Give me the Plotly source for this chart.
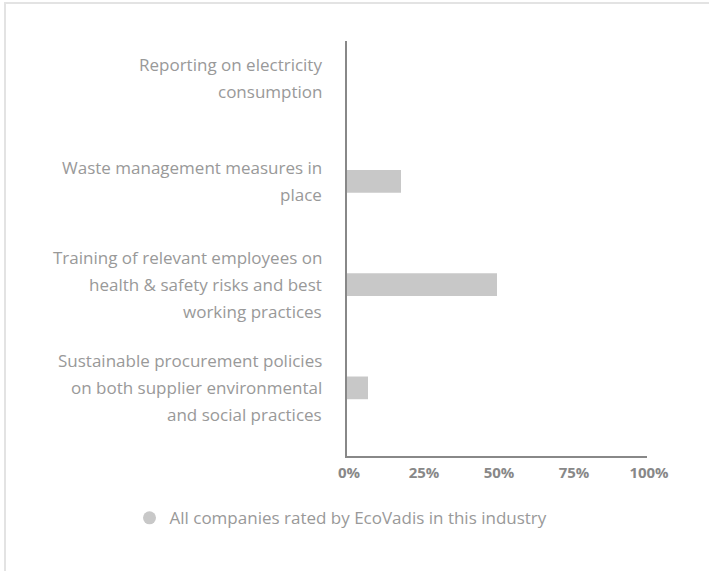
import plotly.graph_objects as go

categories = [
    "Reporting on electricity consumption",
    "Waste management measures in place",
    "Training of relevant employees on health & safety risks and best working practices",
    "Sustainable procurement policies on both supplier environmental and social practices",
]
label_lines = [
    ["Reporting on electricity", "consumption"],
    ["Waste management measures in", "place"],
    ["Training of relevant employees on", "health & safety risks and best", "working practices"],
    ["Sustainable procurement policies", "on both supplier environmental", "and social practices"],
]
values = [0, 18, 50, 7]
tick_vals = [0, 25, 50, 75, 100]
tick_text = ["0%", "25%", "50%", "75%", "100%"]
series_name = "All companies rated by EcoVadis in this industry"

BAR = "#c8c8c8"
FONT = "Open Sans, sans-serif"

fig = go.Figure()
fig.add_trace(go.Bar(
    x=values, y=categories, orientation="h",
    marker=dict(color=BAR, line=dict(width=0)),
    width=0.22, showlegend=False, hoverinfo="x+y",
))
fig.add_trace(go.Scatter(
    x=[None], y=[None], mode="markers", name=series_name,
    marker=dict(color=BAR, size=13, symbol="circle"),
    showlegend=True,
))

annotations = []
LINE_H = 27
for cat, lines in zip(categories, label_lines):
    n = len(lines)
    for i, line in enumerate(lines):
        off = ((n - 1) / 2 - i) * LINE_H
        annotations.append(dict(
            text=line, xref="paper", x=0, xanchor="right", xshift=-23,
            yref="y", y=cat, yanchor="middle", yshift=off,
            showarrow=False, font=dict(family=FONT, size=17, color="#999999"),
        ))

fig.update_layout(
    width=709, height=571,
    margin=dict(l=347, r=62, t=41, b=115),
    paper_bgcolor="white", plot_bgcolor="white",
    font=dict(family=FONT),
    xaxis=dict(
        range=[0, 100], tickvals=tick_vals, ticktext=tick_text,
        showgrid=False, zeroline=False, showline=True, linecolor="#888888", linewidth=2,
        tickfont=dict(family=FONT, size=15, color="#888888", weight="bold"),
        ticks="", ticklabelstandoff=2, ticklabelshift=2,
    ),
    yaxis=dict(
        categoryorder="array", categoryarray=categories,
        range=[3.66, -0.36], showticklabels=False, showgrid=False, zeroline=False,
        showline=True, linecolor="#888888", linewidth=2, ticks="",
    ),
    legend=dict(
        orientation="h", x=-0.02, xanchor="center", y=-0.15, yanchor="middle",
        font=dict(family=FONT, size=17, color="#999999"),
    ),
    annotations=annotations,
    shapes=[
        dict(type="line", xref="paper", yref="paper",
             x0=(4 - 347) / 300, x1=(709 - 347) / 300,
             y0=(456 - 3) / 415, y1=(456 - 3) / 415,
             line=dict(color="#e3e3e3", width=2)),
        dict(type="line", xref="paper", yref="paper",
             x0=(5 - 347) / 300, x1=(5 - 347) / 300,
             y0=(456 - 2) / 415, y1=(456 - 571) / 415,
             line=dict(color="#e3e3e3", width=2)),
    ],
)

fig.write_html("out.html")
